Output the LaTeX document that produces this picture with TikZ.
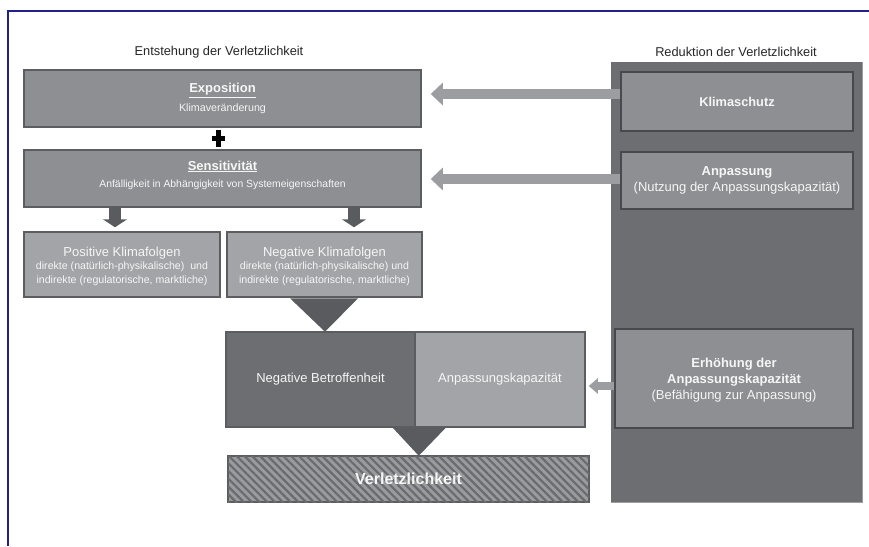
\documentclass[tikz,border=0pt]{standalone}
\usepackage{fontspec}
\setmainfont{Liberation Sans}
\usetikzlibrary{arrows.meta,patterns.meta,calc}
\definecolor{framec}{HTML}{22208C}
\definecolor{midg}{HTML}{8E8F93}
\definecolor{lightg}{HTML}{A3A4A8}
\definecolor{darkg}{HTML}{6D6E72}
\definecolor{bdr}{HTML}{5C5D61}
\definecolor{inbdr}{HTML}{48494D}
\definecolor{arrg}{HTML}{9C9DA1}
\definecolor{trig}{HTML}{5A5B5F}
\definecolor{txtw}{HTML}{F6F6F6}
\definecolor{hatchbg}{HTML}{9A9B9F}
\definecolor{hatchfg}{HTML}{6A6B6F}
\tikzset{
  box/.style={draw=bdr, line width=1.5pt, fill=midg, text=txtw, align=center, inner sep=0pt},
  lbox/.style={box, fill=lightg},
  dbox/.style={box, fill=darkg},
  pbox/.style={draw=inbdr, line width=1.5pt, fill=midg, text=txtw, align=center, inner sep=0pt},
  ttl/.style={text=black!85, inner sep=0pt, font=\fontsize{12.8}{15}\selectfont},
  intext/.style={text=txtw, align=center, inner sep=0pt},
  bigarrow/.style={draw=arrg, line width=10pt, -{Triangle[width=22pt,length=12pt]}},
  smallarrow/.style={draw=arrg, line width=8pt, -{Triangle[width=15pt,length=9pt]}},
  downarrow/.style={draw=trig, line width=12pt, -{Triangle[width=24pt,length=8pt]}},
  tri/.style={fill=trig}
}
\begin{document}
\begin{tikzpicture}[x=1pt,y=-1pt]
\useasboundingbox (0,0) rectangle (869,546);
\fill[white] (0,0) rectangle (869,546);
% frame
\draw[framec, line width=1.6pt] (8,546) -- (8,11) -- (869,11);

% titles
\node[ttl] (t1) at (219,52) {Entstehung der Verletzlichkeit};
\node[ttl] (t2) at (736,52) {Reduktion der Verletzlichkeit};

% left column
\node[box, minimum width=397pt, minimum height=57pt] (expo) at (222.5,98.5)
  {{\bfseries\fontsize{13}{15}\selectfont \underline{Exposition}}\\[5pt]
   {\fontsize{10.7}{13}\selectfont Klimaver\"anderung}};
\fill[black] (212,136) rectangle (225,140.5);
\fill[black] (216.2,130) rectangle (220.8,146.5);
\node[box, minimum width=397pt, minimum height=57pt] (sens) at (222.5,178.5) {};
\node[intext] (senst) at ([yshift=3.5pt]sens.center)
  {{\bfseries\fontsize{13}{15}\selectfont \underline{Sensitivit\"at}}\\[5pt]
   {\fontsize{10.4}{13}\selectfont Anf\"alligkeit in Abh\"angigkeit von Systemeigenschaften}};

\node[lbox, minimum width=196pt, minimum height=65pt, font=\fontsize{10.6}{13.5}\selectfont] (pos) at (122,264.5) {};
\node[intext, font=\fontsize{10.6}{13.5}\selectfont] (post) at ([yshift=-1.5pt]pos.center)
  {{\fontsize{13}{15}\selectfont Positive Klimafolgen}\\
   direkte (nat\"urlich-physikalische)\ \ und\\
   indirekte (regulatorische, marktliche)};
\node[lbox, minimum width=195pt, minimum height=65pt] (neg) at (324.5,264.5) {};
\node[intext, font=\fontsize{10.6}{13.5}\selectfont] (negt) at ([yshift=-1.5pt]neg.center)
  {{\fontsize{13}{15}\selectfont Negative Klimafolgen}\\
   direkte (nat\"urlich-physikalische) und\\
   indirekte (regulatorische, marktliche)};

\coordinate (d1) at (115,207);
\coordinate (d2) at (354,207);
\draw[downarrow, shorten >=4pt] (d1) -- (d1 |- pos.north);
\draw[downarrow, shorten >=4pt] (d2) -- (d2 |- neg.north);

\node[dbox, minimum width=189pt, minimum height=95pt, font=\fontsize{13}{15}\selectfont] (nb) at (320.5,379.5) {Negative Betroffenheit};
\node[lbox, minimum width=170pt, minimum height=95pt, font=\fontsize{13}{15}\selectfont] (ak) at (500,379.5) {Anpassungskapazit\"at};

\fill[tri] ($(neg.south)+(-34.5,0.5)$) -- ($(neg.south)+(33.5,0.5)$) -- ($(neg.south)+(0.5,34)$) -- cycle;
\fill[tri] ($(nb.south east)+(-23,0)$) -- ($(nb.south east)+(30,0)$) -- ($(nb.south east)+(3,28)$) -- cycle;

\node[draw=bdr, line width=1.5pt, fill=hatchbg, text=txtw, inner sep=0pt,
      minimum width=361pt, minimum height=46pt,
      postaction={pattern={Lines[angle=-45,distance=5.5pt,line width=2.2pt]}, pattern color=hatchfg},
      font=\bfseries\fontsize{16}{19}\selectfont] (verl) at (408.5,479) {Verletzlichkeit};

% right panel
\node[fill=darkg, minimum width=251pt, minimum height=440pt, inner sep=0pt] (panel) at (736.5,282) {};
\draw[arrg, line width=1pt] (panel.north east) -- (panel.south east) -- (panel.south west);
\node[pbox, minimum width=232pt, minimum height=59pt, font=\bfseries\fontsize{12.8}{15}\selectfont] (ks) at (737,101.5) {Klimaschutz};
\node[pbox, minimum width=232pt, minimum height=57pt, font=\fontsize{13}{15.5}\selectfont] (anp) at (737,180.5)
  {{\bfseries Anpassung}\\(Nutzung der Anpassungskapazit\"at)};
\node[pbox, minimum width=238pt, minimum height=99pt] (erh) at (734,378.5) {};
\node[intext, font=\fontsize{13}{16}\selectfont] (erht) at ([yshift=-1.5pt]erh.center)
  {{\bfseries Erh\"ohung der}\\{\bfseries Anpassungskapazit\"at}\\(Bef\"ahigung zur Anpassung)};

% arrows
\coordinate (k1) at ([yshift=7.5pt]ks.west);
\coordinate (k2) at ([yshift=1.5pt]anp.west);
\coordinate (k3) at ([yshift=-7.5pt]erh.west);
\draw[bigarrow, shorten >=9pt] (k1) -- (k1 -| expo.east);
\draw[bigarrow, shorten >=9pt] (k2) -- (k2 -| sens.east);
\draw[smallarrow, shorten >=3pt] (k3) -- (k3 -| ak.east);
\end{tikzpicture}
\end{document}
